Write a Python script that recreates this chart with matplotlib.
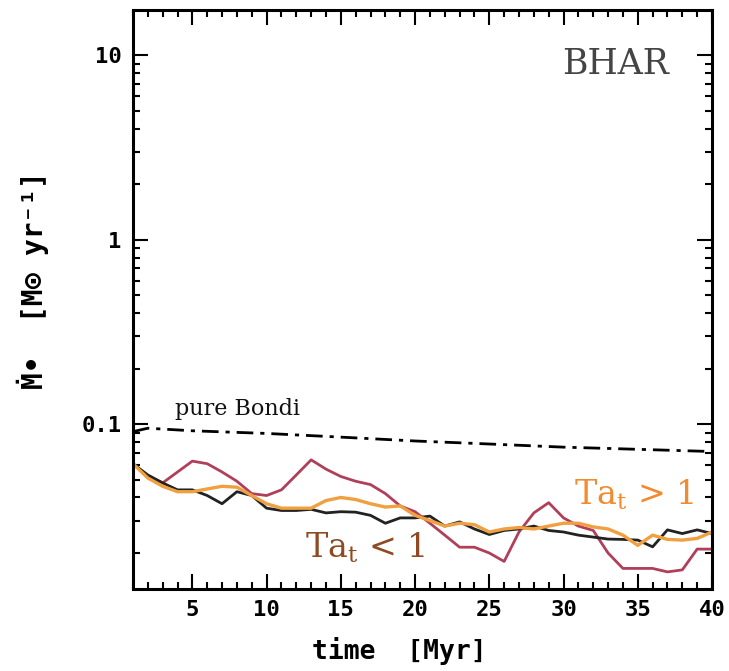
import numpy as np
import matplotlib
matplotlib.use("Agg")
import matplotlib.pyplot as plt
from matplotlib.ticker import FixedLocator, LogLocator, NullFormatter

plt.rcParams['mathtext.fontset'] = 'dejavuserif'

# time grid [Myr]
t = np.arange(1, 41)

# Ta_t < 1 run (red)
red = [0.061, 0.052, 0.048, 0.055, 0.063, 0.061, 0.055, 0.049, 0.042, 0.041,
       0.044, 0.053, 0.064, 0.057, 0.052, 0.049, 0.047, 0.042, 0.036, 0.0335,
       0.029, 0.025, 0.0215, 0.0215, 0.020, 0.018, 0.026, 0.033, 0.0375, 0.031,
       0.028, 0.0265, 0.020, 0.0165, 0.0165, 0.0165, 0.0158, 0.0162, 0.021, 0.021]

# reference run (black)
black = [0.061, 0.053, 0.048, 0.044, 0.044, 0.041, 0.037, 0.043, 0.041, 0.035,
         0.034, 0.034, 0.0345, 0.033, 0.0335, 0.0333, 0.032, 0.029, 0.031, 0.031,
         0.0317, 0.028, 0.0295, 0.027, 0.0252, 0.0265, 0.027, 0.028, 0.0265, 0.026,
         0.025, 0.0244, 0.0238, 0.0237, 0.0235, 0.0216, 0.0267, 0.0255, 0.0267, 0.0255]

# Ta_t > 1 run (orange)
orange = [0.061, 0.051, 0.046, 0.043, 0.043, 0.0445, 0.046, 0.0455, 0.041, 0.037,
          0.035, 0.035, 0.035, 0.0385, 0.040, 0.039, 0.037, 0.0355, 0.036, 0.032,
          0.030, 0.028, 0.029, 0.0285, 0.026, 0.027, 0.0275, 0.027, 0.028, 0.029,
          0.029, 0.0277, 0.027, 0.025, 0.022, 0.025, 0.0237, 0.0235, 0.024, 0.026]

# pure Bondi rate
t_bondi = [1, 2, 5, 10, 15, 20, 25, 30, 35, 40]
bondi = [0.091, 0.095, 0.092, 0.089, 0.085, 0.081, 0.078, 0.075, 0.073, 0.071]

fig = plt.figure(figsize=(7.29, 6.71), dpi=100)
ax = fig.add_axes([0.1824, 0.1222, 0.7943, 0.8629])

ax.plot(t_bondi, bondi, color='black', lw=2, ls=(0, (6, 2.5, 1.5, 2.5)))
ax.plot(t, red, color='#b0405a', lw=2)
ax.plot(t, black, color='#222222', lw=2)
ax.plot(t, orange, color='#f0a040', lw=2.4)

ax.set_yscale('log')
ax.set_xlim(1, 40)
ax.set_ylim(0.01276, 17.6)

ax.xaxis.set_major_locator(FixedLocator([5, 10, 15, 20, 25, 30, 35, 40]))
ax.xaxis.set_minor_locator(FixedLocator(np.arange(1, 41)))
ax.yaxis.set_major_locator(FixedLocator([0.1, 1, 10]))
ax.yaxis.set_minor_locator(LogLocator(base=10, subs=np.arange(2, 10)))
ax.yaxis.set_minor_formatter(NullFormatter())
ax.set_yticklabels(['0.1', '1', '10'])

for lab in ax.get_xticklabels() + ax.get_yticklabels():
    lab.set_fontfamily('DejaVu Sans Mono')
    lab.set_fontweight('bold')
    lab.set_fontsize(16)

ax.tick_params(which='both', direction='in', top=True, right=True, width=1.5)
ax.tick_params(which='major', length=11, pad=8)
ax.tick_params(which='minor', length=5)
for s in ax.spines.values():
    s.set_linewidth(2.2)

ax.set_xlabel('time  [Myr]', family='DejaVu Sans Mono', weight='bold', size=19)
ax.xaxis.set_label_coords(0.46, -0.083)
ax.set_ylabel('Ṁ•  [M⊙ yr⁻¹]', family=['DejaVu Sans Mono', 'DejaVu Sans'],
              weight='bold', size=20)
ax.yaxis.set_label_coords(-0.145, 0.533)

ax.text(3.8, 0.112, 'pure Bondi', family='DejaVu Serif', size=16, color='#111111')
ax.text(37.1, 9.0, 'BHAR', family='DejaVu Serif', size=25, color='#444444',
        ha='right', va='center')
ax.text(30.7, 0.0365, r'Ta$_\mathrm{t}$ > 1', family='DejaVu Serif', size=24,
        color='#f28a2e')
ax.text(12.6, 0.0188, r'Ta$_\mathrm{t}$ < 1', family='DejaVu Serif', size=24,
        color='#8e4a22')

plt.savefig('out.png', dpi=100)
